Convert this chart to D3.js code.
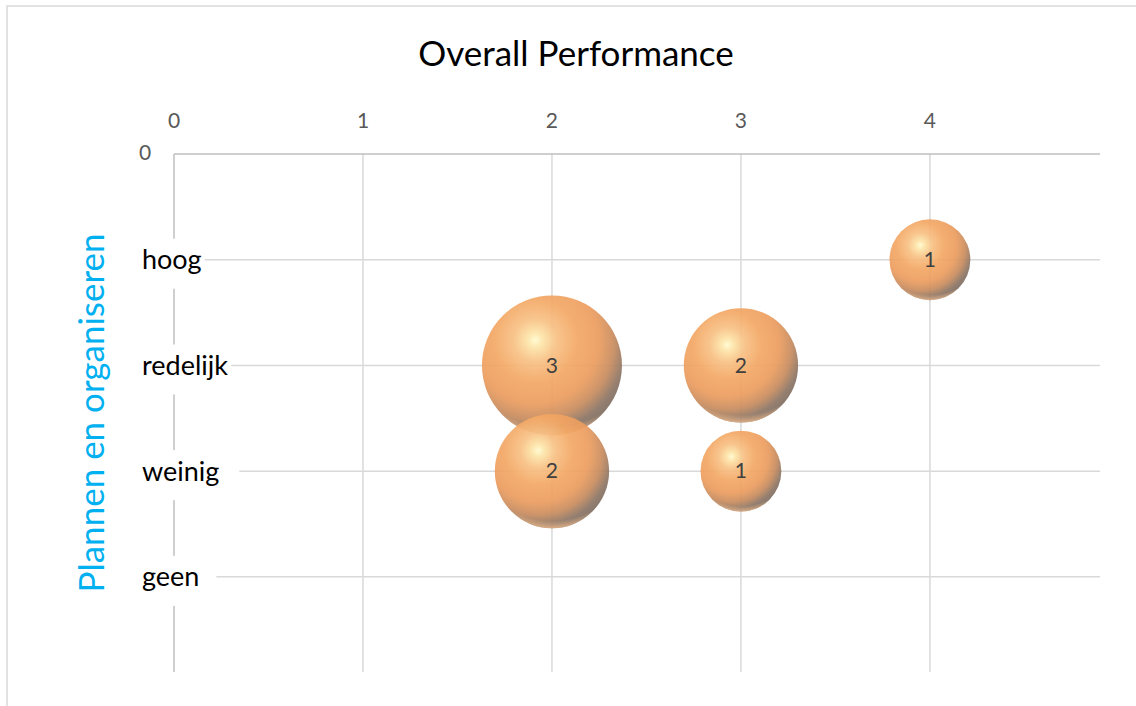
<!DOCTYPE html>
<html>
<head>
<meta charset="utf-8">
<script src="https://cdn.jsdelivr.net/npm/d3@7"></script>
<style>
  body { margin: 0; background: #fff; }
  svg { display: block; }
  text { font-family: "Lato", "Open Sans", sans-serif; }
</style>
</head>
<body>
<svg id="chart" width="1136" height="706"></svg>
<script>
const title = "Overall Performance";
const yTitle = "Plannen en organiseren";
const xTicks = [0, 1, 2, 3, 4];
const yCategories = ["hoog", "redelijk", "weinig", "geen"]; // positions 1..4
const bubbleX = [4, 2, 3, 2, 3];
const bubbleY = [1, 2, 2, 3, 3];
const bubbleSize = [1, 3, 2, 2, 1];

const svg = d3.select("#chart");
const W = 1136, H = 706;
const m = { left: 174, right: 36, top: 154, bottom: 34 };

// chart border
svg.append("rect").attr("x", 7).attr("y", 6).attr("width", W + 20).attr("height", H + 20)
  .attr("fill", "#fff").attr("stroke", "#d9d9d9").attr("stroke-width", 1.5);

const x = d3.scaleLinear().domain([0, 4.9]).range([m.left, W - m.right]);
const y = d3.scaleLinear().domain([0, 4.9]).range([m.top, H - m.bottom]);
const r = d3.scaleSqrt().domain([0, 3]).range([0, 70]);

// title
svg.append("text").attr("x", 576).attr("y", 54).attr("dy", "0.35em").attr("text-anchor", "middle")
  .attr("font-size", 35).attr("fill", "#000").text(title);

// gridlines
const g = svg.append("g");
g.selectAll("line.vg").data(xTicks.slice(1)).join("line")
  .attr("x1", d => x(d)).attr("x2", d => x(d)).attr("y1", y(0)).attr("y2", y(4.9))
  .attr("stroke", "#d9d9d9").attr("stroke-width", 1.5);
g.selectAll("line.hg").data(d3.range(1, 5)).join("line")
  .attr("x1", x(0)).attr("x2", x(4.9)).attr("y1", d => y(d)).attr("y2", d => y(d))
  .attr("stroke", "#d9d9d9").attr("stroke-width", 1.5);
// axes lines
g.append("line").attr("x1", x(0)).attr("x2", x(4.9)).attr("y1", y(0)).attr("y2", y(0))
  .attr("stroke", "#bfbfbf").attr("stroke-width", 1.5);
g.append("line").attr("x1", x(0)).attr("x2", x(0)).attr("y1", y(0)).attr("y2", y(4.9))
  .attr("stroke", "#bfbfbf").attr("stroke-width", 1.5);

// x tick labels (top)
svg.selectAll("text.xt").data(xTicks).join("text")
  .attr("x", d => x(d)).attr("y", y(0) - 33).attr("dy", "0.35em")
  .attr("text-anchor", "middle").attr("font-size", 21).attr("fill", "#595959").text(d => d);
// y "0" label
svg.append("text").attr("x", x(0) - 29).attr("y", y(0) - 1).attr("dy", "0.35em")
  .attr("text-anchor", "middle").attr("font-size", 21).attr("fill", "#595959").text("0");

// category labels with white boxes
const labG = svg.append("g");
const extraPad = [3, 3, 20, 17];
yCategories.forEach((c, i) => {
  const t = labG.append("text").attr("x", x(0) - 32).attr("y", y(i + 1)).attr("dy", "0.35em")
    .attr("font-size", 27).attr("fill", "#000").text(c);
  const bb = t.node().getBBox();
  labG.insert("rect", "text").attr("x", bb.x - 3).attr("y", y(i + 1) - 21)
    .attr("width", bb.width + 3 + extraPad[i]).attr("height", 50).attr("fill", "#fff");
});

// y-axis title
svg.append("text").attr("transform", `translate(${92},${(y(0) + y(4.9)) / 2}) rotate(-90)`)
  .attr("text-anchor", "middle").attr("dy", "0.35em").attr("font-size", 35)
  .attr("fill", "#00b0f0").text(yTitle);

// gradients
const defs = svg.append("defs");
const grad = defs.append("radialGradient").attr("id", "ball")
  .attr("cx", "38%").attr("cy", "32%").attr("r", "78%").attr("fx", "38%").attr("fy", "32%");
[[0, "#fffbd0"], [0.07, "#fde4a8"], [0.2, "#f8c084"], [0.38, "#f4a865"], [0.58, "#ec9d5f"],
 [0.72, "#c98c5e"], [0.84, "#8c7564"], [1, "#6e625c"]]
  .forEach(([o, c]) => grad.append("stop").attr("offset", o).attr("stop-color", c));
const rim = defs.append("radialGradient").attr("id", "rim")
  .attr("cx", "50%").attr("cy", "22%").attr("r", "84%");
[[0, "#ffbe84", 0], [0.85, "#ffbe84", 0], [0.95, "#ffbe84", 0.9], [1, "#ffbe84", 1]]
  .forEach(([o, c, op]) => rim.append("stop").attr("offset", o).attr("stop-color", c).attr("stop-opacity", op));

const data = bubbleX.map((d, i) => ({ x: d, y: bubbleY[i], s: bubbleSize[i] }));
const bG = svg.append("g");
data.forEach(d => {
  const gg = bG.append("g").attr("opacity", 0.92);
  gg.append("circle").attr("cx", x(d.x)).attr("cy", y(d.y)).attr("r", r(d.s)).attr("fill", "url(#ball)");
  gg.append("circle").attr("cx", x(d.x)).attr("cy", y(d.y)).attr("r", r(d.s)).attr("fill", "url(#rim)");
});
bG.selectAll("text").data(data).join("text")
  .attr("x", d => x(d.x)).attr("y", d => y(d.y)).attr("dy", "0.35em")
  .attr("text-anchor", "middle").attr("font-size", 21).attr("fill", "#404040").text(d => d.s);
</script>
</body>
</html>
